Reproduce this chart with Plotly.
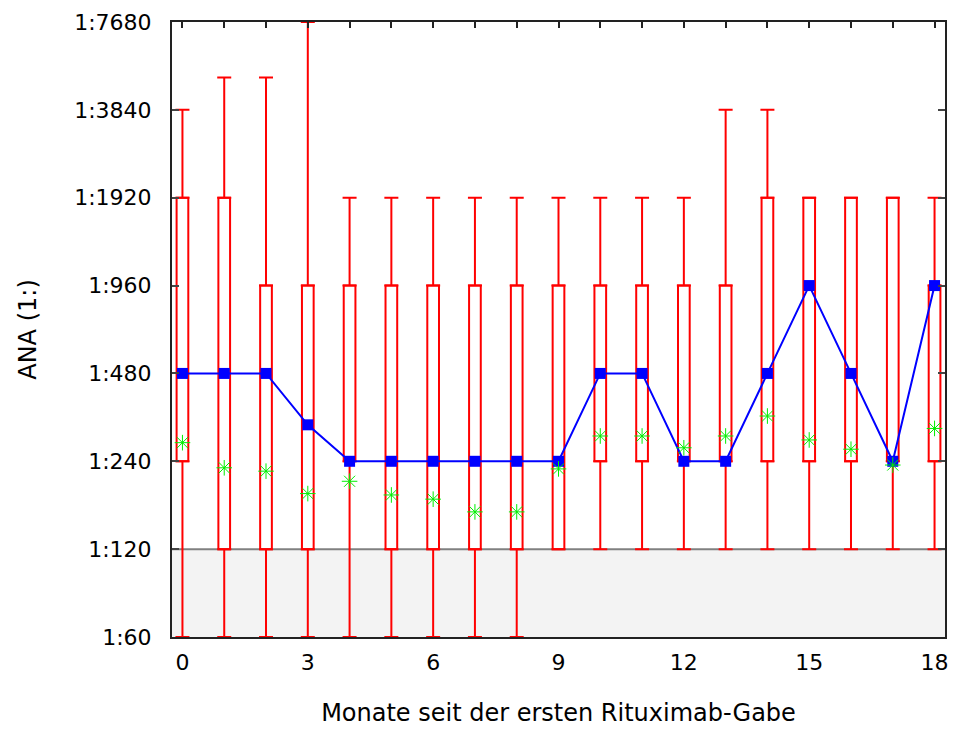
import math
import plotly.graph_objects as go

months = list(range(19))
whisker_low = [60, 60, 60, 60, 60, 60, 60, 60, 60, 120, 120, 120, 120, 120, 120, 120, 120, 120, 120]
box_low = [240, 120, 120, 120, 240, 120, 120, 120, 120, 120, 240, 240, 240, 240, 240, 240, 240, 240, 240]
box_high = [1920, 1920, 960, 960, 960, 960, 960, 960, 960, 960, 960, 960, 960, 960, 1920, 1920, 1920, 1920, 960]
whisker_high = [3840, 4960, 4960, 7680, 1920, 1920, 1920, 1920, 1920, 1920, 1920, 1920, 1920, 3840, 3840, 1920, 1920, 1920, 1920]
median = [480, 480, 480, 320, 240, 240, 240, 240, 240, 240, 480, 480, 240, 240, 480, 960, 480, 240, 960]
mean = [278, 228, 222, 186, 205, 184, 178, 161, 161, 226, 293, 293, 267, 293, 343, 284, 264, 233, 311]

reference_limit = 120
y_ticks = [60, 120, 240, 480, 960, 1920, 3840, 7680]
y_labels = ["1:%d" % v for v in y_ticks]
x_labels_at = [0, 3, 6, 9, 12, 15, 18]

RED = "#ff0000"
BLUE = "#0000ff"
GREEN = "#00ee00"
FONT = "DejaVu Sans"

fig = go.Figure()

# upper whiskers (from box top to max)
fig.add_trace(go.Scatter(
    x=months, y=box_high, mode="markers",
    marker=dict(size=1, color="rgba(0,0,0,0)"),
    error_y=dict(type="data", symmetric=False,
                 array=[h - b for h, b in zip(whisker_high, box_high)],
                 arrayminus=[0] * len(months),
                 color=RED, thickness=2, width=7),
    showlegend=False, hoverinfo="skip"))
# lower whiskers (from min to box bottom)
fig.add_trace(go.Scatter(
    x=months, y=box_low, mode="markers",
    marker=dict(size=1, color="rgba(0,0,0,0)"),
    error_y=dict(type="data", symmetric=False,
                 array=[0] * len(months),
                 arrayminus=[b - l for b, l in zip(box_low, whisker_low)],
                 color=RED, thickness=2, width=7),
    showlegend=False, hoverinfo="skip"))

# boxes (q1..q3)
fig.add_trace(go.Bar(
    x=months, base=box_low, y=[h - l for h, l in zip(box_high, box_low)],
    width=0.28, marker=dict(color="rgba(0,0,0,0)", line=dict(color=RED, width=2)),
    showlegend=False, hoverinfo="skip"))

# medians
fig.add_trace(go.Scatter(
    x=months, y=median, mode="lines+markers",
    line=dict(color=BLUE, width=2),
    marker=dict(symbol="square", size=11, color=BLUE),
    showlegend=False))

# means
fig.add_trace(go.Scatter(
    x=months, y=mean, mode="markers",
    marker=dict(symbol="asterisk-open", size=13, color=GREEN, line=dict(color=GREEN, width=1)),
    showlegend=False))

# dummy trace for top axis ticks
fig.add_trace(go.Scatter(x=[0], y=[60], xaxis="x2", mode="markers",
                         marker=dict(size=1, color="rgba(0,0,0,0)"),
                         showlegend=False, hoverinfo="skip"))

# reference region below 1:120
fig.add_shape(type="rect", xref="paper", yref="y", x0=0, x1=1,
              y0=y_ticks[0], y1=reference_limit, layer="below",
              fillcolor="#f3f3f3", line=dict(width=0))
fig.add_shape(type="line", xref="paper", yref="y", x0=0, x1=1,
              y0=reference_limit, y1=reference_limit, layer="below",
              line=dict(color="#808080", width=2))

xr = [-0.25, 18.25]
fig.update_layout(
    width=955, height=731,
    margin=dict(l=172, r=6, t=22, b=94),
    paper_bgcolor="white", plot_bgcolor="white",
    font=dict(family=FONT, size=22, color="black"),
    barmode="overlay",
    xaxis=dict(range=xr, tickvals=x_labels_at, ticktext=[str(v) for v in x_labels_at],
               ticks="", showgrid=False, zeroline=False,
               showline=True, linecolor="#222222", linewidth=2, mirror=True,
               ticklabelstandoff=5,
               title=dict(text="Monate seit der ersten Rituximab-Gabe",
                          font=dict(family=FONT, size=24), standoff=30)),
    xaxis2=dict(range=xr, overlaying="x", side="top", anchor="y",
                tickvals=months, ticks="inside", ticklen=6, tickwidth=1.5,
                tickcolor="#222222", showticklabels=False, showgrid=False,
                zeroline=False, showline=False),
    yaxis=dict(type="log", range=[math.log10(y_ticks[0]), math.log10(y_ticks[-1])],
               tickvals=y_ticks, ticktext=y_labels,
               ticks="inside", ticklen=7, tickwidth=1.5, tickcolor="#444444",
               showgrid=False, zeroline=False,
               showline=True, linecolor="#222222", linewidth=2, mirror="ticks",
               ticklabelstandoff=14,
               title=dict(text="ANA (1:)", font=dict(family=FONT, size=24), standoff=31)),
)

fig.write_html("out.html")
